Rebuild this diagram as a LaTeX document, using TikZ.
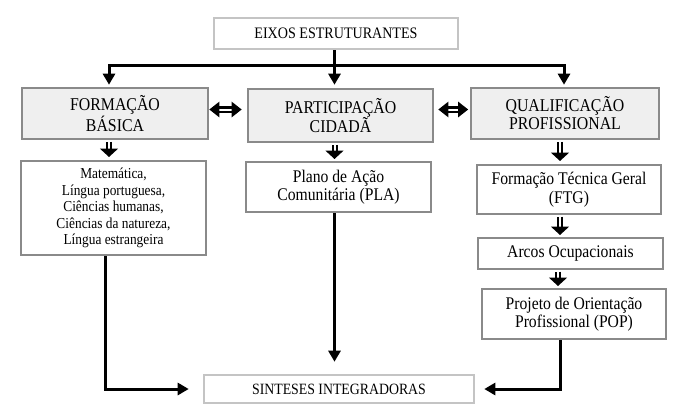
\documentclass[tikz,border=0pt]{standalone}
\usepackage{fontspec}
\setmainfont{Liberation Serif}[FakeStretch=0.88]
\usetikzlibrary{arrows.meta}
\definecolor{bordgray}{HTML}{8A8A8A}
\definecolor{lightbord}{HTML}{C4C4C4}
\definecolor{boxfill}{HTML}{EFEFEF}
\begin{document}
\begin{tikzpicture}[x=1pt,y=-1pt,
 box/.style={draw=bordgray, line width=2pt, fill=white, inner sep=0pt, align=center, font=\fontsize{17.8}{18.5}\selectfont},
 headbox/.style={box, fill=boxfill, line width=2.6pt, font=\fontsize{18}{18}\selectfont},
 outerbox/.style={box, draw=lightbord, line width=2.6pt, font=\fontsize{16}{18}\selectfont},
 arr/.style={line width=3pt, -{Triangle[length=11pt,width=12pt]}},
 blockarr/.style={double=white, line width=2pt, double distance=2pt, -{Triangle[length=8.5pt,width=18pt]}},
 dblarr/.style={double=white, line width=2.4pt, double distance=2pt, {Triangle[length=10pt,width=15pt]}-{Triangle[length=10pt,width=15pt]}}
]
\useasboundingbox (0,0) rectangle (682,418);

\node[outerbox, minimum width=244pt, minimum height=31pt] (eixos) at (336,33.5) {EIXOS ESTRUTURANTES};

\node[headbox, minimum width=186pt, minimum height=51pt] (fb) at (115,113.5) {FORMAÇÃO\\BÁSICA};
\node[headbox, minimum width=185pt, minimum height=53pt] (pc) at (340.5,115.5) {PARTICIPAÇÃO\\CIDADÃ};
\node[headbox, minimum width=188pt, minimum height=51pt] (qp) at (565,113.5) {QUALIFICAÇÃO\\PROFISSIONAL};

\node[box, minimum width=185pt, minimum height=94pt, font=\fontsize{15.2}{16.5}\selectfont] (mat) at (113.5,208)
 {Matemática,\\Língua portuguesa,\\Ciências humanas,\\Ciências da natureza,\\Língua estrangeira};
\node[box, minimum width=185pt, minimum height=50pt] (pla) at (338.5,187) {Plano de Ação\\Comunitária (PLA)};
\node[box, minimum width=184pt, minimum height=49pt] (ftg) at (569,189.5) {Formação Técnica Geral\\(FTG)};
\node[box, minimum width=185pt, minimum height=31pt] (arcos) at (570.5,253.5) {Arcos Ocupacionais};
\node[box, minimum width=184pt, minimum height=50pt] (pop) at (574,314) {Projeto de Orientação\\Profissional (POP)};

\node[outerbox, minimum width=270pt, minimum height=28pt, font=\fontsize{15.7}{18}\selectfont] (sint) at (339,389) {SINTESES INTEGRADORAS};

% top distribution
\coordinate (hub) at (334.5,65);
\draw[line width=3pt] (eixos.south -| hub) -- (hub);
\draw[arr, shorten >=2pt] (hub) -| ([xshift=-6pt]fb.north);
\draw[arr, shorten >=3pt] (hub) -- (hub |- pc.north);
\draw[arr, shorten >=2pt] (hub) -| ([xshift=-1pt]qp.north);

% double arrows between heads
\draw[dblarr, shorten <=0pt, shorten >=5pt] ([yshift=4pt]fb.east) -- ([yshift=4pt]fb.east -| pc.west);
\draw[dblarr, shorten <=4pt, shorten >=1.5pt] ([yshift=4pt]fb.east -| pc.east) -- ([yshift=4pt]fb.east -| qp.west);

% block arrows down
\draw[blockarr, shorten <=1.5pt, shorten >=3pt] ([xshift=-6pt]fb.south) -- ([xshift=-6pt]fb.south |- mat.north);
\draw[blockarr, shorten <=1.5pt, shorten >=2pt] ([xshift=-6pt]pc.south) -- ([xshift=-6pt]pc.south |- pla.north);
\draw[blockarr, shorten <=1.5pt, shorten >=3pt] ([xshift=-5pt]qp.south) -- ([xshift=-5pt]qp.south |- ftg.north);
\draw[blockarr, shorten <=1.5pt, shorten >=2pt] ([xshift=-9pt]ftg.south) -- ([xshift=-9pt]ftg.south |- arcos.north);
\draw[blockarr, shorten <=1.5pt, shorten >=2pt] ([xshift=-12.5pt]arcos.south) -- ([xshift=-12.5pt]arcos.south |- pop.north);

% to syntheses
\draw[arr, shorten >=14pt] ([xshift=-8.5pt]mat.south) |- (sint.west);
\draw[arr, shorten >=12pt] ([xshift=-4pt]pla.south) -- ([xshift=-4pt]pla.south |- sint.north);
\draw[arr, shorten >=9pt] ([xshift=-14pt]pop.south) |- (sint.east);
\end{tikzpicture}
\end{document}
